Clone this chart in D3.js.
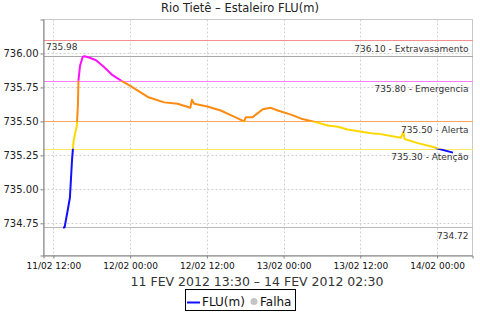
<!DOCTYPE html>
<html><head><meta charset="utf-8">
<script src="https://cdn.jsdelivr.net/npm/d3@7"></script>
<style>
html,body{margin:0;padding:0;background:#fff;}
svg{display:block;font-family:"DejaVu Sans",sans-serif;}
</style></head>
<body><svg id="chart" width="480" height="320"></svg>
<script>
// ---- data ----
const times = ["2012-02-11 13:30","2012-02-11 13:45","2012-02-11 14:15","2012-02-11 14:35","2012-02-11 14:45","2012-02-11 14:55","2012-02-11 15:10","2012-02-11 15:40","2012-02-11 15:50","2012-02-11 15:55","2012-02-11 16:10","2012-02-11 16:35","2012-02-11 16:50","2012-02-11 17:35","2012-02-11 18:40","2012-02-11 19:55","2012-02-11 21:15","2012-02-11 22:35","2012-02-12 00:05","2012-02-12 02:45","2012-02-12 05:20","2012-02-12 07:25","2012-02-12 09:25","2012-02-12 09:40","2012-02-12 10:00","2012-02-12 12:05","2012-02-12 14:10","2012-02-12 16:15","2012-02-12 17:50","2012-02-12 18:05","2012-02-12 19:10","2012-02-12 19:40","2012-02-12 20:45","2012-02-12 22:00","2012-02-12 23:05","2012-02-13 01:10","2012-02-13 02:45","2012-02-13 04:35","2012-02-13 06:55","2012-02-13 08:30","2012-02-13 10:00","2012-02-13 12:40","2012-02-13 14:10","2012-02-13 14:45","2012-02-13 18:20","2012-02-13 18:45","2012-02-13 18:55","2012-02-13 21:00","2012-02-13 23:35","2012-02-14 00:05","2012-02-14 02:30"];
const levels = [734.72,734.72,734.85,734.94,735.08,735.22,735.36,735.47,735.62,735.80,735.91,735.975,735.98,735.97,735.95,735.90,735.84,735.80,735.76,735.68,735.64,735.63,735.60,735.66,735.63,735.61,735.58,735.535,735.50,735.53,735.53,735.55,735.59,735.60,735.58,735.55,735.52,735.50,735.47,735.46,735.44,735.42,735.41,735.41,735.38,735.42,735.37,735.34,735.31,735.30,735.27];
const yTicks = [734.75,735.00,735.25,735.50,735.75,736.00];
const refValues = [736.10,735.98,735.80,735.50,735.30,734.72];
const refLabels = ["736.10 - Extravasamento","735.98","735.80 - Emergencia","735.50 - Alerta","735.30 - Atenção","734.72"];
const refColors = ["#f29090","#a8a8a8","#ff7cff","#ffa458","#ffea60","#b8b8b8"];
const bandLimits = [734.0,735.30,735.50,735.80,737.0];
const bandColors = ["#1010ff","#ffd800","#ff8a10","#ff10ff"];
const title = "Rio Tietê – Estaleiro FLU(m)";
const xTitle = "11 FEV 2012 13:30 – 14 FEV 2012 02:30";
const legendItems = ["FLU(m)","Falha"];

// ---- layout ----
const svg = d3.select("#chart");
const L = 43.5, T = 19.5, R = 472.5, B = 255.5;
const parse = d3.timeParse("%Y-%m-%d %H:%M");
const data = times.map((t,i)=>({t:parse(t), v:levels[i]}));
const ext = d3.extent(data, d=>d.t);
const span = ext[1]-ext[0];
const x = d3.scaleTime().domain([new Date(+ext[0]-span*0.05), new Date(+ext[1]+span*0.05)]).range([L,R]);
const y = d3.scaleLinear().domain([734.513,736.25]).range([B,T]);

svg.append("text").attr("x",240).attr("y",12).attr("text-anchor","middle")
  .attr("font-size","11.5px").attr("fill","#222").text(title);

// grid
const xTickVals = d3.timeHour.every(12).range(x.domain()[0], x.domain()[1]);
svg.append("g").selectAll("line").data(yTicks).join("line")
  .attr("x1",L).attr("x2",R).attr("y1",d=>Math.round(y(d))+0.5).attr("y2",d=>Math.round(y(d))+0.5)
  .attr("stroke","#d0d0d0").attr("stroke-dasharray","2,2");
svg.append("g").selectAll("line").data(xTickVals).join("line")
  .attr("y1",T).attr("y2",B).attr("x1",d=>Math.round(x(d))+0.5).attr("x2",d=>Math.round(x(d))+0.5)
  .attr("stroke","#d0d0d0").attr("stroke-dasharray","2,2");

// plot border
svg.append("rect").attr("x",L).attr("y",T).attr("width",R-L).attr("height",B-T)
  .attr("fill","none").attr("stroke","#c8c8c8");

// reference lines
svg.append("g").selectAll("line").data(refValues).join("line")
  .attr("x1",L).attr("x2",R).attr("y1",d=>Math.round(y(d))+0.5).attr("y2",d=>Math.round(y(d))+0.5)
  .attr("stroke",(d,i)=>refColors[i]).attr("stroke-width",1).attr("shape-rendering","crispEdges");

// series, clipped into coloured bands
const defs = svg.append("defs");
const lineGen = d3.line().x(d=>x(d.t)).y(d=>y(d.v));
bandColors.forEach((c,i)=>{
  const y0 = y(bandLimits[i]), y1 = y(bandLimits[i+1]);
  defs.append("clipPath").attr("id","band"+i).append("rect")
    .attr("x",L).attr("width",R-L).attr("y",Math.min(y0,y1)).attr("height",Math.abs(y0-y1));
  svg.append("path").datum(data).attr("d",lineGen).attr("fill","none")
    .attr("stroke",c).attr("stroke-width",2).attr("stroke-linejoin","round")
    .attr("clip-path","url(#band"+i+")");
});

// reference labels
const refG = svg.append("g").attr("font-size","9px").attr("fill","#333");
refValues.forEach((v,i)=>{
  const yy = y(v);
  if (i===1) {
    refG.append("text").attr("x",46).attr("y",yy-6.5).text(refLabels[i]);
  } else {
    refG.append("text").attr("x",468.5).attr("y",yy+11.8).attr("text-anchor","end").text(refLabels[i]);
  }
});

// axes
const ya = svg.append("g").attr("transform",`translate(${L},0)`)
  .call(d3.axisLeft(y).tickValues(yTicks).tickFormat(d3.format(".2f")).tickSize(3).tickPadding(2));
ya.select(".domain").attr("stroke","#808080");
ya.selectAll(".tick line").attr("stroke","#808080");
ya.selectAll("text").attr("font-size","10px").attr("fill","#222").attr("font-family","DejaVu Sans");

const xa = svg.append("g").attr("transform",`translate(0,${B})`)
  .call(d3.axisBottom(x).tickValues(xTickVals).tickFormat(d3.timeFormat("%d/%m %H:%M")).tickSize(3).tickPadding(4));
xa.select(".domain").attr("stroke","#808080");
xa.selectAll(".tick line").attr("stroke","#808080");
xa.selectAll("text").attr("font-size","9px").attr("fill","#111").attr("font-family","DejaVu Sans");

svg.append("text").attr("x",257).attr("y",286).attr("text-anchor","middle")
  .attr("font-size","12.5px").attr("fill","#333").text(xTitle);

// legend
const lg = svg.append("g");
lg.append("rect").attr("x",185.5).attr("y",289.5).attr("width",110).attr("height",21).attr("fill","#fff").attr("stroke","#000");
lg.append("line").attr("x1",187).attr("x2",200).attr("y1",302.5).attr("y2",302.5).attr("stroke","#1010ff").attr("stroke-width",2);
lg.append("text").attr("x",202).attr("y",306).attr("font-size","12px").attr("fill","#111").text(legendItems[0]);
lg.append("circle").attr("cx",254).attr("cy",301.5).attr("r",3.5).attr("fill","#c4c4c4");
lg.append("text").attr("x",260).attr("y",306).attr("font-size","12px").attr("fill","#111").text(legendItems[1]);
</script></body></html>
